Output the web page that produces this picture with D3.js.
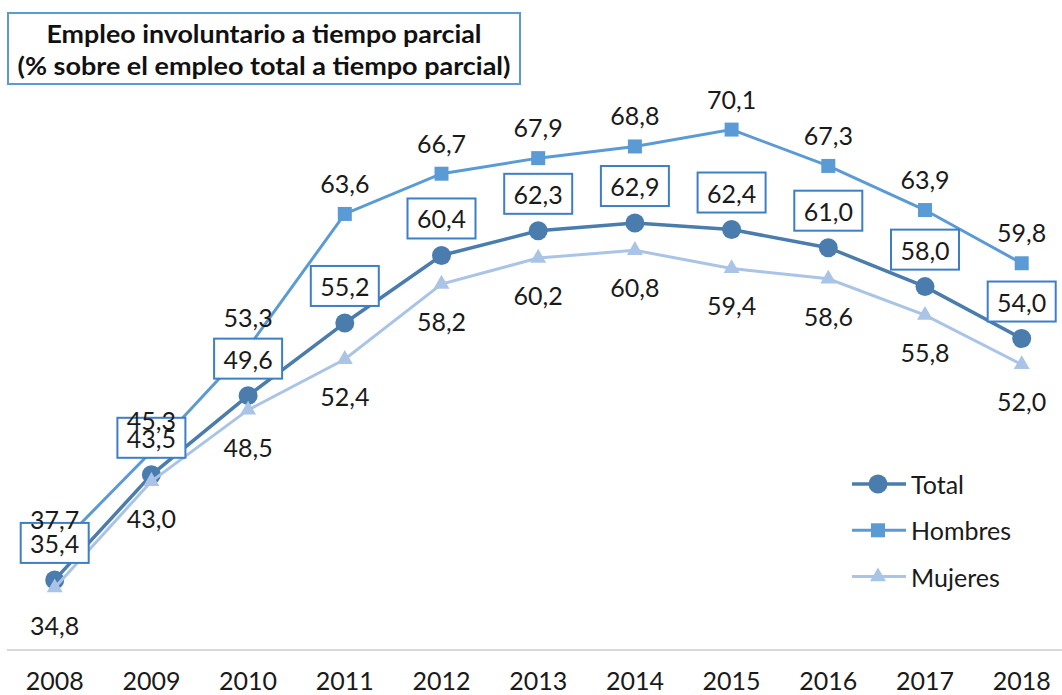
<!DOCTYPE html>
<html>
<head>
<meta charset="utf-8">
<script src="https://cdn.jsdelivr.net/npm/d3@7"></script>
<style>
  body { margin: 0; background: #fff; }
  svg { display: block; font-family: Lato, "Open Sans", sans-serif; }
  .lbl { font-size: 25px; fill: #1a1a1a; }
</style>
</head>
<body>
<svg width="1062" height="695"></svg>
<script>
years = ['2008', '2009', '2010', '2011', '2012', '2013', '2014', '2015', '2016', '2017', '2018']
total = [35.4, 43.5, 49.6, 55.2, 60.4, 62.3, 62.9, 62.4, 61.0, 58.0, 54.0]
hombres = [37.7, 45.3, 53.3, 63.6, 66.7, 67.9, 68.8, 70.1, 67.3, 63.9, 59.8]
mujeres = [34.8, 43.0, 48.5, 52.4, 58.2, 60.2, 60.8, 59.4, 58.6, 55.8, 52.0]
seriesNames = ['Total', 'Hombres', 'Mujeres']
titleLines = ['Empleo involuntario a tiempo parcial', '(% sobre el empleo total a tiempo parcial)']

C_TOTAL = '#4a7cad'
C_HOMBRES = '#5b9bd5'
C_MUJERES = '#a9c4e6'
C_BOX = '#3d7fc6'

svg = d3.select('svg')
x = d3.scalePoint().domain(years).range([54.7, 1021.7])
y = d3.scaleLinear().domain([30, 75]).range([650, 66])

fmt = function (v) { return d3.format('.1f')(v).replace('.', ','); }

// baseline + year labels
svg.append('line')
  .attr('x1', 7).attr('x2', 1062)
  .attr('y1', y(30)).attr('y2', y(30))
  .attr('stroke', '#d9d9d9').attr('stroke-width', 2)

svg.append('g').selectAll('text')
  .data(years).enter().append('text')
  .attr('class', 'lbl')
  .attr('x', function (d) { return x(d); })
  .attr('y', 680)
  .attr('text-anchor', 'middle')
  .attr('dominant-baseline', 'central')
  .text(function (d) { return d; })

series = [
  {name: seriesNames[0], vals: total, color: C_TOTAL, width: 3.5, shape: 'circle'},
  {name: seriesNames[1], vals: hombres, color: C_HOMBRES, width: 3, shape: 'square'},
  {name: seriesNames[2], vals: mujeres, color: C_MUJERES, width: 3, shape: 'triangle'}
]

line = d3.line()
  .x(function (d, i) { return x(years[i]); })
  .y(function (d) { return y(d); })

function marker(sel, shape, color) {
  if (shape == 'circle') sel.append('circle').attr('r', 9.5).attr('fill', color)
  else if (shape == 'square') sel.append('rect').attr('x', -7).attr('y', -7).attr('width', 14).attr('height', 14).attr('fill', color)
  else sel.append('path').attr('d', d3.symbol().type(d3.symbolTriangle).size(110)()).attr('fill', color)
}

series.forEach(function (s) {
  svg.append('path')
    .datum(s.vals)
    .attr('d', line)
    .attr('fill', 'none')
    .attr('stroke', s.color)
    .attr('stroke-width', s.width)
  svg.append('g').selectAll('g')
    .data(s.vals).enter().append('g')
    .attr('transform', function (d, i) { return 'translate(' + x(years[i]) + ',' + y(d) + ')'; })
    .each(function () { marker(d3.select(this), s.shape, s.color); })
})

// total boxes
boxes = svg.append('g').selectAll('g')
  .data(total).enter().append('g')
  .attr('transform', function (d, i) { return 'translate(' + x(years[i]) + ',' + (y(d) - 37) + ')'; })
boxes.append('rect')
  .attr('x', -34).attr('y', -20).attr('width', 68).attr('height', 40)
  .attr('fill', '#fff').attr('stroke', C_BOX).attr('stroke-width', 2)

// hombres labels (above)
svg.append('g').selectAll('text')
  .data(hombres).enter().append('text')
  .attr('class', 'lbl')
  .attr('x', function (d, i) { return x(years[i]); })
  .attr('y', function (d) { return y(d) - 31; })
  .attr('text-anchor', 'middle')
  .attr('dominant-baseline', 'central')
  .text(fmt)

boxes.append('text')
  .attr('class', 'lbl')
  .attr('text-anchor', 'middle')
  .attr('dominant-baseline', 'central')
  .text(fmt)

// mujeres labels (below)
svg.append('g').selectAll('text')
  .data(mujeres).enter().append('text')
  .attr('class', 'lbl')
  .attr('x', function (d, i) { return x(years[i]); })
  .attr('y', function (d) { return y(d) + 37; })
  .attr('text-anchor', 'middle')
  .attr('dominant-baseline', 'central')
  .text(fmt)

// legend
leg = svg.append('g').selectAll('g')
  .data(series).enter().append('g')
  .attr('transform', function (d, i) { return 'translate(852,' + (484 + i * 46.3) + ')'; })
leg.append('line')
  .attr('x1', 0).attr('x2', 54)
  .attr('stroke', function (d) { return d.color; })
  .attr('stroke-width', function (d) { return d.width; })
leg.append('g')
  .attr('transform', 'translate(26,0)')
  .each(function (d) { marker(d3.select(this), d.shape, d.color); })
leg.append('text')
  .attr('class', 'lbl')
  .attr('x', 59)
  .attr('dominant-baseline', 'central')
  .text(function (d) { return d.name; })

// title box
titleWidths = [435, 493]
svg.append('rect')
  .attr('x', 8).attr('y', 13).attr('width', 512).attr('height', 71)
  .attr('fill', '#fff').attr('stroke', C_HOMBRES).attr('stroke-width', 2)
svg.append('g').selectAll('text')
  .data(titleLines).enter().append('text')
  .attr('x', 264)
  .attr('y', function (d, i) { return 33 + i * 32; })
  .attr('text-anchor', 'middle')
  .attr('dominant-baseline', 'central')
  .attr('font-size', 24)
  .attr('font-weight', 700)
  .attr('fill', '#111')
  .attr('textLength', function (d, i) { return titleWidths[i]; })
  .attr('lengthAdjust', 'spacingAndGlyphs')
  .text(function (d) { return d; })
</script>
</body>
</html>
